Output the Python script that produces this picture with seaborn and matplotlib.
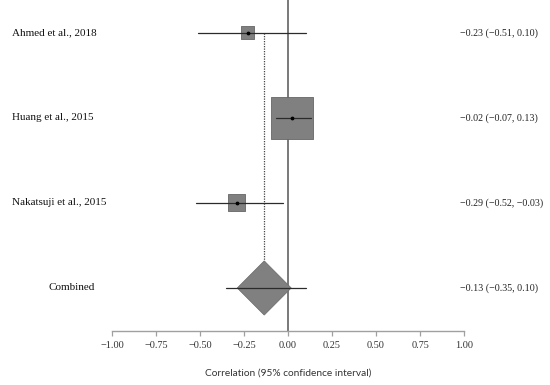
import matplotlib
matplotlib.use('Agg')
import matplotlib.pyplot as plt
from matplotlib.patches import Polygon
from matplotlib.transforms import blended_transform_factory
import seaborn as sns

studies = ['Ahmed et al., 2018', 'Huang et al., 2015', 'Nakatsuji et al., 2015']
effects = [-0.23, 0.02, -0.29]
lower = [-0.51, -0.07, -0.52]
upper = [0.10, 0.13, -0.03]
weights = [7.6, 79.4, 13.0]
ci_labels = ['\u22120.23 (\u22120.51, 0.10)', '\u22120.02 (\u22120.07, 0.13)',
             '\u22120.29 (\u22120.52, \u22120.03)']

combined_label = 'Combined'
combined_effect = -0.135
combined_lower = -0.35
combined_upper = 0.10
combined_text = '\u22120.13 (\u22120.35, 0.10)'

xticks = [-1.0, -0.75, -0.5, -0.25, 0.0, 0.25, 0.5, 0.75, 1.0]
xlabel = 'Correlation (95% confidence interval)'

sns.set_theme(style='white')
serif = ['Liberation Serif', 'DejaVu Serif']

fig = plt.figure(figsize=(5.5, 3.85), dpi=100)
ax = fig.add_axes([112 / 550, 54 / 385, 352 / 550, 331 / 385])
ax.set_xlim(-1, 1)
ax.set_ylim(3.506, -0.388)

box_color = '#808080'
line_color = '#2b2b2b'

# zero line
ax.axvline(0, color='#555555', lw=1.1, zorder=1)

# pooled estimate reference (dotted)
ax.plot([combined_effect, combined_effect], [0, 3 - 0.32], color='#444444',
        lw=0.9, ls=(0, (1, 1)), zorder=1)

rows = list(range(len(studies)))
for i in rows:
    ax.plot([lower[i], upper[i]], [i, i], color=line_color, lw=0.9, zorder=3)

# squares, side proportional to sqrt(weight)
total_px = 47.1
sides = [total_px * (w / 100) ** 0.5 for w in weights]
sns.scatterplot(x=effects, y=rows, marker='s', s=[(s * 0.72) ** 2 for s in sides],
                color=box_color, edgecolor='#666666', linewidth=0.6, zorder=2, ax=ax,
                legend=False)
ax.scatter(effects, rows, s=3, color='black', zorder=4)

# combined diamond
cy = len(studies)
hw, hh = 0.153, 0.318
diamond = Polygon([[combined_effect - hw, cy], [combined_effect, cy - hh],
                   [combined_effect + hw, cy], [combined_effect, cy + hh]],
                  closed=True, facecolor=box_color, edgecolor='#707070', lw=0.6, zorder=2)
ax.add_patch(diamond)
ax.plot([combined_lower, combined_upper], [cy, cy], color=line_color, lw=0.9, zorder=3)

# labels (x in figure fraction, y in data)
trans = blended_transform_factory(fig.transFigure, ax.transData)
for i, name in enumerate(studies):
    ax.text(12 / 550, i, name, transform=trans, ha='left', va='center',
            fontsize=8.0, family=serif, color='#111111')
    ax.text(460 / 550, i, ci_labels[i], transform=trans, ha='left',
            va='center', fontsize=7.2, family=serif, color='#222222')
ax.text(72 / 550, cy, combined_label, transform=trans, ha='center',
        va='center', fontsize=8.0, family=serif, color='#111111')
ax.text(460 / 550, cy, combined_text, transform=trans, ha='left',
        va='center', fontsize=7.2, family=serif, color='#222222')

# axes styling
for side in ['top', 'left', 'right']:
    ax.spines[side].set_visible(False)
ax.spines['bottom'].set_color('#a0a0a0')
ax.spines['bottom'].set_linewidth(1.0)
ax.set_yticks([])
ax.set_xticks(xticks)
ax.set_xticklabels([f'{t:.2f}'.replace('-', '\u2212') for t in xticks],
                   fontsize=7.4, family=serif, color='#333333')
ax.tick_params(axis='x', direction='out', length=3.5, width=0.9, colors='#a0a0a0',
               labelcolor='#333333', pad=4, bottom=True)
ax.set_xlabel(xlabel, fontsize=7.3, family=['Lato', 'DejaVu Sans'], color='#333333',
              labelpad=13)
ax.grid(False)

fig.savefig('out.png', dpi=100)
plt.close(fig)
